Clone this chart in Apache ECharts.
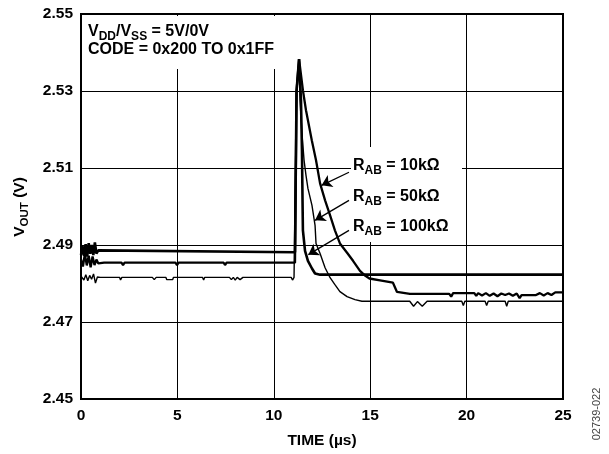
<!DOCTYPE html>
<html><head><meta charset="utf-8">
<script src="https://cdn.jsdelivr.net/npm/echarts@6/dist/echarts.min.js"></script>
<style>html,body{margin:0;padding:0;background:#fff;}#c{width:609px;height:454px;}</style>
</head><body><div id="c"></div>
<script>
// ---- data (time in µs, VOUT in V) ----
const xTicks = [0, 5, 10, 15, 20, 25];
const yTicks = [2.45, 2.47, 2.49, 2.51, 2.53, 2.55];

const t100k = [0, 0.08, 0.16, 0.24, 0.32, 0.4, 0.48, 0.56, 0.64, 0.72, 0.8, 0.9, 1.0, 11.10, 11.18, 11.31, 11.41, 11.46, 11.49, 11.51, 11.62, 11.77, 11.98, 12.14, 12.40, 25];
const v100k = [2.4874, 2.4897, 2.4872, 2.4902, 2.4870, 2.4905, 2.4877, 2.4900, 2.4874, 2.4907, 2.4878, 2.4886, 2.4881, 2.4881, 2.5300, 2.5383, 2.5276, 2.5146, 2.5016, 2.4938, 2.4885, 2.4859, 2.4839, 2.4826, 2.4823, 2.4823];

const t10k = [0, 0.1, 0.2, 0.3, 0.4, 0.5, 0.6, 0.7, 0.8, 0.9, 1.0, 1.2, 2.1, 2.18, 2.26, 4.9, 4.98, 5.06, 7.4, 7.47, 7.55, 11.10, 11.18, 11.31, 11.51, 11.67, 11.97, 12.19, 12.40, 12.66, 12.92, 13.17, 13.43, 13.80, 14.11, 14.47, 14.75, 14.96, 15.51, 16.18, 16.39, 17.06, 19.1, 19.2, 19.3, 20.4, 20.5, 20.6, 20.8, 21.0, 21.2, 21.4, 21.6, 21.8, 22.0, 22.2, 22.4, 22.6, 22.75, 22.85, 23.6, 23.8, 24.0, 24.2, 24.4, 24.6, 25];
const v10k = [2.4862, 2.4844, 2.4877, 2.4847, 2.4872, 2.4842, 2.4870, 2.4848, 2.4862, 2.4852, 2.4857, 2.4854, 2.4854, 2.4848, 2.4854, 2.4854, 2.4848, 2.4854, 2.4854, 2.4848, 2.4854, 2.4854, 2.5300, 2.5383, 2.5302, 2.5250, 2.5172, 2.5120, 2.5060, 2.5016, 2.4977, 2.4938, 2.4904, 2.4880, 2.4859, 2.4833, 2.4820, 2.4813, 2.4808, 2.4802, 2.4778, 2.4773, 2.4773, 2.4766, 2.4775, 2.4775, 2.4768, 2.4775, 2.4769, 2.4775, 2.4768, 2.4774, 2.4767, 2.4774, 2.4770, 2.4774, 2.4768, 2.4774, 2.4762, 2.4770, 2.4770, 2.4775, 2.4769, 2.4775, 2.4770, 2.4777, 2.4777];

const t50k = [0, 0.15, 0.25, 0.35, 0.45, 0.55, 0.65, 0.75, 0.85, 1.0, 2.0, 2.05, 2.12, 3.7, 3.8, 3.9, 4.4, 4.45, 4.75, 4.8, 6.3, 6.36, 6.42, 7.7, 7.8, 7.9, 8.0, 8.1, 8.25, 8.4, 10.9, 10.97, 11.05, 11.10, 11.18, 11.31, 11.36, 11.46, 11.57, 11.67, 11.77, 11.98, 12.14, 12.19, 12.40, 12.66, 12.92, 13.17, 13.43, 13.80, 14.21, 14.57, 17.05, 17.25, 17.45, 17.7, 17.95, 19.75, 19.83, 19.91, 20.96, 21.04, 21.12, 22.0, 22.08, 22.16, 25];
const v50k = [2.4819, 2.4809, 2.4823, 2.4807, 2.4821, 2.4811, 2.4825, 2.4801, 2.4817, 2.4816, 2.4816, 2.4809, 2.4816, 2.4816, 2.4810, 2.4816, 2.4816, 2.4810, 2.4810, 2.4816, 2.4816, 2.4809, 2.4816, 2.4816, 2.4810, 2.4816, 2.4809, 2.4816, 2.4810, 2.4816, 2.4816, 2.4809, 2.4816, 2.4816, 2.5300, 2.5383, 2.5276, 2.5190, 2.5120, 2.5081, 2.5047, 2.5003, 2.4951, 2.4904, 2.4878, 2.4841, 2.4815, 2.4797, 2.4779, 2.4766, 2.4758, 2.4754, 2.4754, 2.4741, 2.4753, 2.4741, 2.4754, 2.4754, 2.4743, 2.4754, 2.4754, 2.4743, 2.4754, 2.4754, 2.4741, 2.4754, 2.4754];

// annotation arrows [tStart, vStart, tEnd, vEnd]
const arrow10k = [13.90, 2.5089, 12.48, 2.5055];
const arrow50k = [13.90, 2.5016, 12.14, 2.4964];
const arrow100k = [13.90, 2.4938, 11.79, 2.4875];

// ---- chart ----
const Y0 = yTicks[0];
const FONT = '"Liberation Sans", Arial, sans-serif';
const FS = 15.5;
const AFS = 16;
function pts(ts, vs) { return ts.map((t, i) => [t, vs[i] - Y0]); }
const ctx = document.createElement('canvas').getContext('2d');
function tw(txt, size) { ctx.font = 'bold ' + size + 'px ' + FONT; return ctx.measureText(txt).width; }
// parts: [text, isSub]
function subText(parts, x, y, opts) {
  opts = opts || {};
  const size = opts.size || AFS, sub = opts.sub || 12, dy = opts.dy || 5;
  let total = 0; parts.forEach(p => total += tw(p[0], p[1] ? sub : size));
  let cx = opts.center ? -total / 2 : 0;
  const children = [];
  parts.forEach(p => {
    const s = p[1] ? sub : size;
    children.push({ type: 'text', x: cx, y: p[1] ? dy : 0, z: 20,
      style: { text: p[0], fontSize: s, fontWeight: 'bold', fontFamily: FONT, fill: '#000', verticalAlign: 'middle', align: 'left' } });
    cx += tw(p[0], s);
  });
  return { type: 'group', x: x, y: y, rotation: opts.rotation || 0, z: 20, children: children };
}
function arrowLine(a) {
  return {
    silent: true, animation: false, symbol: ['none', 'arrow'], symbolSize: 10,
    lineStyle: { color: '#000', width: 1.3, type: 'solid' }, label: { show: false },
    data: [[{ coord: [a[0], a[1] - Y0] }, { coord: [a[2], a[3] - Y0] }]]
  };
}
function lineSeries(name, data, width, arrow) {
  return { name: name, type: 'line', data: data, showSymbol: false, symbol: 'none', animation: false,
    lineStyle: { color: '#000', width: width }, z: 5, markLine: arrowLine(arrow) };
}
const chart = echarts.init(document.getElementById('c'), null, { renderer: 'canvas' });
chart.setOption({
  backgroundColor: '#fff',
  animation: false,
  grid: { left: 81, right: 46, top: 14, bottom: 54, show: true, borderColor: '#000', borderWidth: 2, backgroundColor: 'transparent' },
  xAxis: {
    type: 'value', min: xTicks[0], max: xTicks[xTicks.length - 1], interval: xTicks[1] - xTicks[0],
    axisLine: { show: false }, axisTick: { show: false },
    splitLine: { show: true, lineStyle: { color: '#000', width: 1 } },
    axisLabel: { color: '#000', fontSize: FS, fontWeight: 'bold', fontFamily: FONT, margin: 9 },
    name: 'TIME (µs)', nameLocation: 'middle', nameGap: 34,
    nameTextStyle: { color: '#000', fontSize: FS, fontWeight: 'bold', fontFamily: FONT }
  },
  yAxis: {
    type: 'value', min: 0, max: yTicks[yTicks.length - 1] - Y0, interval: yTicks[1] - yTicks[0],
    axisLine: { show: false }, axisTick: { show: false },
    splitLine: { show: true, lineStyle: { color: '#000', width: 1 } },
    axisLabel: { color: '#000', fontSize: FS, fontWeight: 'bold', fontFamily: FONT, margin: 8,
      formatter: v => (v + Y0).toFixed(2) }
  },
  graphic: [
    { type: 'rect', shape: { x: 83, y: 16, width: 196, height: 53 }, style: { fill: '#fff' }, z: 3 },
    { type: 'rect', shape: { x: 351, y: 147, width: 111, height: 95 }, style: { fill: '#fff' }, z: 3 },
    subText([['V', 0], ['DD', 1], ['/V', 0], ['SS', 1], [' = 5V/0V', 0]], 88, 32),
    subText([['CODE = 0x200 TO 0x1FF', 0]], 88, 50),
    subText([['R', 0], ['AB', 1], [' = 10kΩ', 0]], 353, 166),
    subText([['R', 0], ['AB', 1], [' = 50kΩ', 0]], 353, 197),
    subText([['R', 0], ['AB', 1], [' = 100kΩ', 0]], 353, 227),
    subText([['V', 0], ['OUT', 1], [' (V)', 0]], 20, 207, { center: true, rotation: Math.PI / 2, size: 15.5, sub: 11.5, dy: 4.5 }),
    { type: 'text', x: 597, y: 414, rotation: Math.PI / 2, z: 20,
      style: { text: '02739-022', fontSize: 11, fontFamily: FONT, fill: '#444', align: 'center', verticalAlign: 'middle' } }
  ],
  series: [
    lineSeries('RAB = 100kΩ', pts(t100k, v100k), 2.6, arrow100k),
    lineSeries('RAB = 10kΩ', pts(t10k, v10k), 2.3, arrow10k),
    lineSeries('RAB = 50kΩ', pts(t50k, v50k), 1.4, arrow50k)
  ]
});
</script></body></html>
